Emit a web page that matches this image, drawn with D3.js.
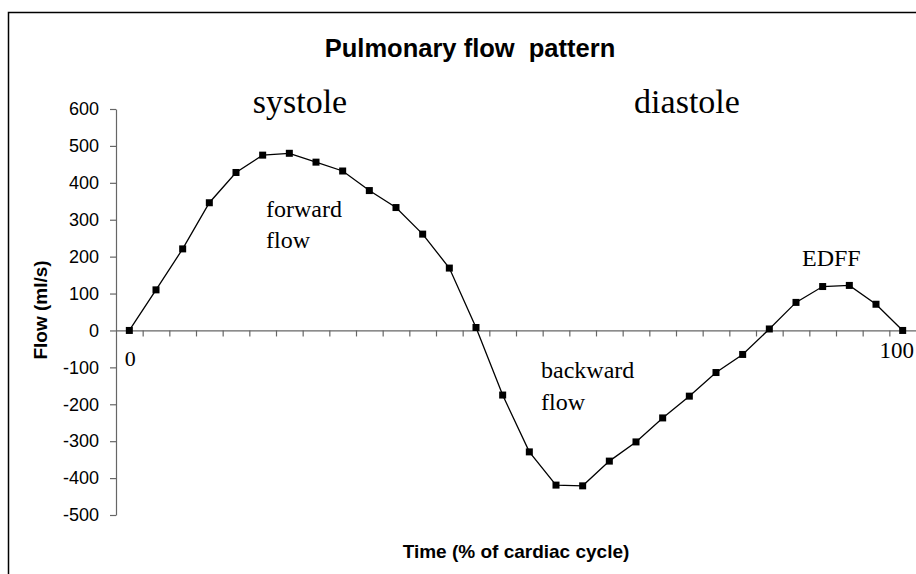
<!DOCTYPE html>
<html>
<head>
<meta charset="utf-8">
<title>Pulmonary flow pattern</title>
<script src="https://cdn.jsdelivr.net/npm/d3@7"></script>
<style>
  body { margin: 0; background: #fff; }
  .axis text { font-family: Arial, "Liberation Sans", sans-serif; font-size: 18px; fill: #000; }
  .axis path, .axis line { stroke: #666; stroke-width: 1.2; }
  .note { font-family: "Times New Roman", "Liberation Serif", serif; fill: #000; }
  .label { font-family: Arial, "Liberation Sans", sans-serif; font-weight: bold; fill: #000; }
</style>
</head>
<body>
<div id="chart"></div>
<script>
// time points, % of cardiac cycle
const categories = [0, 3, 7, 10, 14, 17, 21, 24, 28, 31, 34, 38, 41, 45, 48,
  52, 55, 59, 62, 66, 69, 72, 76, 79, 83, 86, 90, 93, 97, 100];
// flow, ml/s
const flow = [0, 110, 221, 346, 428, 475, 480, 456, 432, 379, 333, 261, 169, 8, -175,
  -329, -419, -421, -354, -302, -237, -178, -114, -65, 4, 76, 119, 122, 71, 0];
const yTicks = [-500, -400, -300, -200, -100, 0, 100, 200, 300, 400, 500, 600];
const xEndLabels = ['0', '100'];

const width = 916, height = 574;
const margin = { top: 109, left: 116 };
const plotW = 800, plotH = 406;

const svg = d3.select('#chart')
  .append('svg')
  .attr('width', width)
  .attr('height', height);

// outer frame (runs off the right and bottom edge)
svg.append('rect')
  .attr('x', 8.5).attr('y', 12.5)
  .attr('width', 1000).attr('height', 1000)
  .attr('fill', 'none').attr('stroke', '#000').attr('stroke-width', 1.5);

const g = svg.append('g')
  .attr('transform', 'translate(' + margin.left + ',' + margin.top + ')');

const x = d3.scaleBand().domain(categories).range([0, plotW]);
const xIdx = d3.scaleLinear().domain([0, categories.length]).range([0, plotW]);
const y = d3.scaleLinear().domain([-500, 600]).range([plotH, 0]);
const cx = d => x(d) + x.bandwidth() / 2;

g.append('g')
  .attr('class', 'axis axis--y')
  .call(d3.axisLeft(y).tickValues(yTicks).tickSize(6).tickPadding(11)
    .tickSizeOuter(0).tickFormat(d => String(d)));

g.append('g')
  .attr('class', 'axis axis--x')
  .attr('transform', 'translate(0,' + y(0) + ')')
  .call(d3.axisBottom(xIdx).tickValues(d3.range(1, categories.length))
    .tickSize(6).tickSizeOuter(0).tickFormat(''));

const line = d3.line()
  .x((d, i) => cx(categories[i]))
  .y(d => y(d));

g.append('path')
  .datum(flow)
  .attr('fill', 'none')
  .attr('stroke', '#000')
  .attr('stroke-width', 1.3)
  .attr('d', line);

g.selectAll('.marker')
  .data(flow)
  .enter().append('rect')
  .attr('class', 'marker')
  .attr('x', (d, i) => cx(categories[i]) - 3.5)
  .attr('y', d => y(d) - 3.5)
  .attr('width', 7)
  .attr('height', 7)
  .attr('fill', '#000');

// end labels of the time axis
g.append('text').attr('class', 'note')
  .attr('x', cx(categories[0]) + 1).attr('y', y(0) + 36)
  .attr('text-anchor', 'middle').style('font-size', '22px')
  .text(xEndLabels[0]);
g.append('text').attr('class', 'note')
  .attr('x', cx(categories[categories.length - 1]) - 6).attr('y', y(0) + 28)
  .attr('text-anchor', 'middle').style('font-size', '23px')
  .text(xEndLabels[1]);

// annotations
svg.append('text').attr('class', 'note')
  .attr('x', 300).attr('y', 113).attr('text-anchor', 'middle')
  .style('font-size', '34px').text('systole');
svg.append('text').attr('class', 'note')
  .attr('x', 687).attr('y', 113).attr('text-anchor', 'middle')
  .style('font-size', '34px').text('diastole');

const fwd = svg.append('text').attr('class', 'note').style('font-size', '24px');
fwd.append('tspan').attr('x', 266).attr('y', 217).text('forward');
fwd.append('tspan').attr('x', 266).attr('y', 248).text('flow');

const bwd = svg.append('text').attr('class', 'note').style('font-size', '24px');
bwd.append('tspan').attr('x', 541).attr('y', 378).text('backward');
bwd.append('tspan').attr('x', 541).attr('y', 410).text('flow');

svg.append('text').attr('class', 'note')
  .attr('x', 802).attr('y', 266).style('font-size', '24px').text('EDFF');

// titles
svg.append('text').attr('class', 'label')
  .attr('x', 470).attr('y', 57).attr('text-anchor', 'middle')
  .style('font-size', '25.5px').style('white-space', 'pre')
  .text('Pulmonary flow  pattern');

svg.append('text').attr('class', 'label')
  .attr('x', 516).attr('y', 558).attr('text-anchor', 'middle')
  .style('font-size', '19px').text('Time (% of cardiac cycle)');

svg.append('text').attr('class', 'label')
  .attr('transform', 'translate(47,310) rotate(-90)')
  .attr('text-anchor', 'middle')
  .style('font-size', '19px').text('Flow (ml/s)');
</script>
</body>
</html>
